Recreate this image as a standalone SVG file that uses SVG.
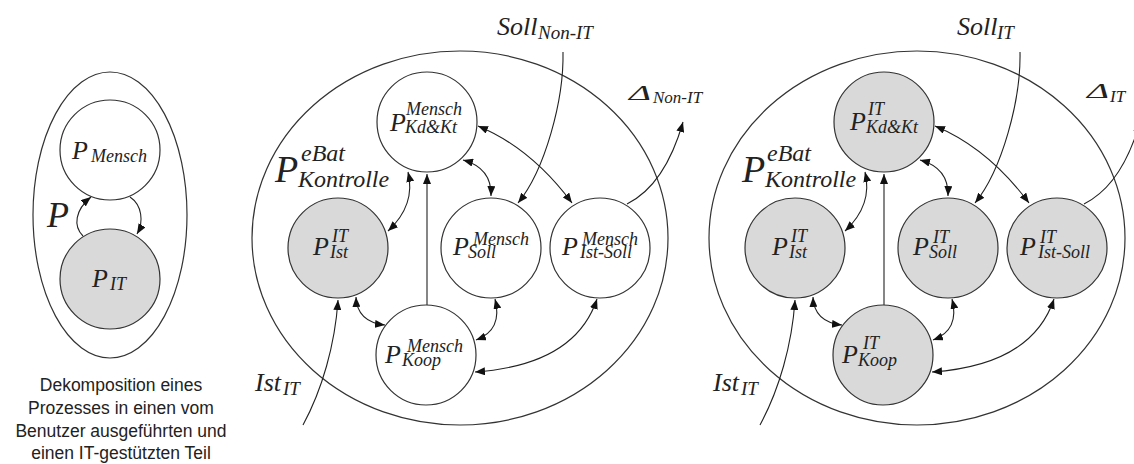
<svg xmlns="http://www.w3.org/2000/svg" width="1134" height="464" viewBox="0 0 1134 464">
<style>
.bg{fill:#fff}
.c{stroke:#333;stroke-width:1.2;fill:#fff}
.g{fill:#d9d9d9}
.e{fill:none;stroke:#333;stroke-width:1.2}
.l{fill:none;stroke:#222;stroke-width:1.1}
.bi{marker-start:url(#ah);marker-end:url(#ah)}
.uni{marker-end:url(#ah)}
.t{font-family:"Liberation Serif","Times New Roman",serif;font-style:italic;fill:#222}
.p{font-size:26px}
.s{font-size:18px}
.d{font-size:21px}
.cap{font-family:"Liberation Sans",Arial,sans-serif;font-size:17.5px;fill:#222;text-anchor:middle}
</style>
<defs>
<marker id="ah" viewBox="0 0 10 8" refX="10" refY="4" markerWidth="10" markerHeight="8" markerUnits="userSpaceOnUse" orient="auto-start-reverse"><path d="M0,0 L10,4 L0,8 z" fill="#111"/></marker>
</defs>
<rect class="bg" x="0" y="0" width="1134" height="464"/>

<!-- Left: decomposition -->
<g id="process-P">
<ellipse class="e" cx="110" cy="215" rx="77" ry="143"/>
<text class="t" x="47" y="227" font-size="36">P</text>
</g>
<g id="connectors-left">
<path class="l uni" d="M 83 236 C 73 226, 75 210, 91 197"/>
<path class="l uni" d="M 130 197 C 142 205, 144 222, 137 234"/>
</g>
<g id="node-P-Mensch">
<circle class="c" cx="110" cy="150" r="50"/>
<text class="t"><tspan class="p" x="72" y="159">P</tspan><tspan class="s" x="91" y="162">Mensch</tspan></text>
</g>
<g id="node-P-IT">
<circle class="c g" cx="110" cy="279" r="50"/>
<text class="t"><tspan class="p" x="92" y="287">P</tspan><tspan class="s" x="110" y="290">IT</tspan></text>
</g>
<g id="caption">
<text class="cap" x="121" y="391">Dekomposition eines</text>
<text class="cap" x="121" y="414">Prozesses in einen vom</text>
<text class="cap" x="121" y="437">Benutzer ausgeführten und</text>
<text class="cap" x="121" y="459">einen IT-gestützten Teil</text>
</g>

<!-- Middle: Mensch -->
<g id="system-mensch">
<ellipse class="e" cx="460" cy="238" rx="208" ry="187"/>
<text class="t"><tspan x="275" y="182" font-size="38">P</tspan><tspan x="301" y="161" font-size="24">eBat</tspan><tspan x="298" y="187" font-size="24">Kontrolle</tspan></text>
<text class="t"><tspan x="497" y="35" font-size="26">Soll</tspan><tspan x="538" y="39" font-size="19">Non-IT</tspan></text>
<text class="t"><tspan class="d" x="629" y="100" textLength="22" lengthAdjust="spacingAndGlyphs">Δ</tspan><tspan x="653" y="103" font-size="17">Non-IT</tspan></text>
<text class="t"><tspan x="255" y="391" font-size="26">Ist</tspan><tspan x="283" y="395" font-size="19">IT</tspan></text>
</g>
<g id="connectors-mensch">
<path class="l bi" d="M 408 172 Q 416 205 388 231"/>
<path class="l bi" d="M 463 160 Q 492 168 491 196"/>
<path class="l bi" d="M 478 126 Q 531 148 572 203"/>
<path class="l uni" d="M 563 52 C 564 100, 545 170, 518 203"/>
<path class="l uni" d="M 627 204 Q 665 185 683 122"/>
<path class="l uni" d="M 303 425 C 322 390, 335 345, 338 300"/>
<path class="l bi" d="M 356 297 Q 357 322 385 325"/>
<path class="l bi" d="M 495 299 Q 503 330 476 340"/>
<path class="l bi" d="M 597 299 Q 575 365 475 372"/>
<path class="l uni" d="M 427 305 L 427 174"/>
</g>
<g id="node-m-kdkt">
<circle class="c" cx="427" cy="122" r="50"/>
<text class="t"><tspan class="p" x="390" y="131">P</tspan><tspan class="s" x="406" y="115">Mensch</tspan><tspan class="s" x="405" y="133">Kd&amp;Kt</tspan></text>
</g>
<g id="node-m-ist">
<circle class="c g" cx="338" cy="248" r="50"/>
<text class="t"><tspan class="p" x="313" y="255">P</tspan><tspan class="s" x="332" y="242">IT</tspan><tspan class="s" x="330" y="258">Ist</tspan></text>
</g>
<g id="node-m-soll">
<circle class="c" cx="491" cy="248" r="50"/>
<text class="t"><tspan class="p" x="453" y="255">P</tspan><tspan class="s" x="473" y="245">Mensch</tspan><tspan class="s" x="468" y="258">Soll</tspan></text>
</g>
<g id="node-m-istsoll">
<circle class="c" cx="600" cy="248" r="50"/>
<text class="t"><tspan class="p" x="562" y="255">P</tspan><tspan class="s" x="582" y="245">Mensch</tspan><tspan class="s" x="580" y="258">Ist-Soll</tspan></text>
</g>
<g id="node-m-koop">
<circle class="c" cx="426" cy="355" r="50"/>
<text class="t"><tspan class="p" x="385" y="363">P</tspan><tspan class="s" x="407" y="352">Mensch</tspan><tspan class="s" x="402" y="366">Koop</tspan></text>
</g>

<!-- Right: IT -->
<g id="system-it">
<ellipse class="e" cx="917" cy="238" rx="208" ry="187"/>
<text class="t"><tspan x="742" y="182" font-size="38">P</tspan><tspan x="767" y="161" font-size="24">eBat</tspan><tspan x="765" y="187" font-size="24">Kontrolle</tspan></text>
<text class="t"><tspan x="957" y="35" font-size="26">Soll</tspan><tspan x="997" y="39" font-size="19">IT</tspan></text>
<text class="t"><tspan class="d" x="1087" y="98" textLength="22" lengthAdjust="spacingAndGlyphs">Δ</tspan><tspan x="1110" y="102" font-size="17">IT</tspan></text>
<text class="t"><tspan x="713" y="391" font-size="26">Ist</tspan><tspan x="741" y="395" font-size="19">IT</tspan></text>
</g>
<g id="connectors-it">
<path class="l bi" d="M 865 172 Q 873 205 845 231"/>
<path class="l bi" d="M 920 160 Q 949 168 948 196"/>
<path class="l bi" d="M 935 126 Q 988 148 1029 203"/>
<path class="l uni" d="M 1020 52 C 1021 100, 1002 170, 975 203"/>
<path class="l uni" d="M 1084 204 Q 1122 185 1140 122"/>
<path class="l uni" d="M 760 425 C 779 390, 792 345, 795 300"/>
<path class="l bi" d="M 813 297 Q 814 322 842 325"/>
<path class="l bi" d="M 952 299 Q 960 330 933 340"/>
<path class="l bi" d="M 1054 299 Q 1032 365 932 372"/>
<path class="l uni" d="M 884 305 L 884 174"/>
</g>
<g id="node-it-kdkt">
<circle class="c g" cx="884" cy="122" r="50"/>
<text class="t"><tspan class="p" x="850" y="130">P</tspan><tspan class="s" x="868" y="115">IT</tspan><tspan class="s" x="866" y="133">Kd&amp;Kt</tspan></text>
</g>
<g id="node-it-ist">
<circle class="c g" cx="795" cy="248" r="50"/>
<text class="t"><tspan class="p" x="772" y="255">P</tspan><tspan class="s" x="791" y="242">IT</tspan><tspan class="s" x="789" y="258">Ist</tspan></text>
</g>
<g id="node-it-soll">
<circle class="c g" cx="948" cy="248" r="50"/>
<text class="t"><tspan class="p" x="913" y="255">P</tspan><tspan class="s" x="933" y="243">IT</tspan><tspan class="s" x="929" y="258">Soll</tspan></text>
</g>
<g id="node-it-istsoll">
<circle class="c g" cx="1057" cy="248" r="50"/>
<text class="t"><tspan class="p" x="1020" y="255">P</tspan><tspan class="s" x="1040" y="243">IT</tspan><tspan class="s" x="1038" y="258">Ist-Soll</tspan></text>
</g>
<g id="node-it-koop">
<circle class="c g" cx="883" cy="355" r="50"/>
<text class="t"><tspan class="p" x="842" y="363">P</tspan><tspan class="s" x="863" y="349">IT</tspan><tspan class="s" x="858" y="366">Koop</tspan></text>
</g>
</svg>
